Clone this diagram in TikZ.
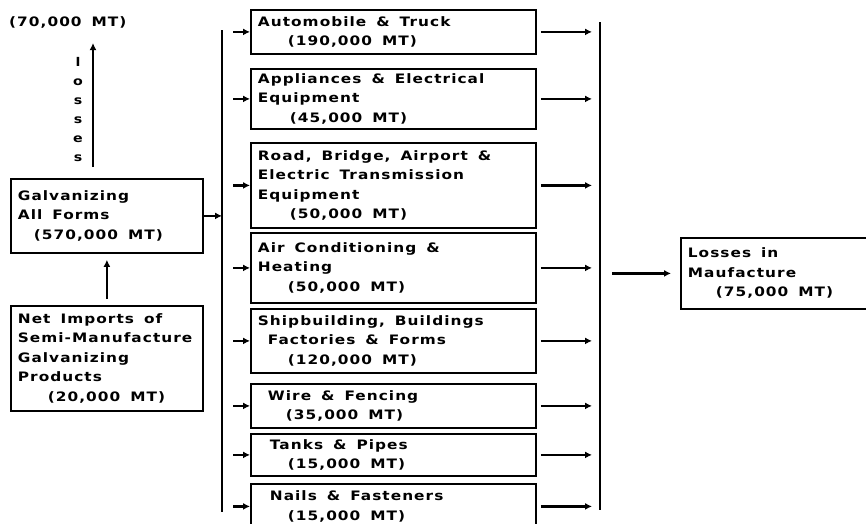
\documentclass[tikz,border=0pt]{standalone}
\usepackage{fontspec}
\usepackage{tikz}
\usetikzlibrary{arrows.meta}
\newfontfamily\diagfont{DejaVu Sans}[FakeStretch=1.18,LetterSpace=8]
\tikzset{
  txt/.style={font=\diagfont\bfseries\fontsize{13}{19.5}\selectfont,inner sep=0pt,
    execute at begin node={\spaceskip=10pt\relax}},
  box/.style={txt,draw=black,line width=1.8pt,anchor=north west,inner xsep=7pt,
    inner ysep=2pt,align=left},
  sector/.style={box,text width=271pt,minimum height=#1},
  flow/.style={draw=black,line width=2.4pt,-{Latex[length=7pt,width=7pt]}},
  bus/.style={draw=black,line width=2.6pt},
}
\begin{document}
\begin{tikzpicture}[x=1pt,y=-1pt]
\useasboundingbox[fill=white] (0,0) rectangle (866,523);
\node[txt,anchor=west] (lossval) at (9,22) {(70,000 MT)};
\node[txt,align=center,font=\diagfont\bfseries\fontsize{12}{19}\selectfont] (lossword) at (78,110) {l\\o\\s\\s\\e\\s};
\coordinate (lossx) at (93,0);
\node[box,text width=178pt,minimum height=74pt] (galv) at (10,178)
  {Galvanizing\\All Forms\\\hspace*{16pt}(570,000 MT)};
\node[box,text width=178pt,minimum height=105pt] (imports) at (10,305)
  {Net Imports of\\Semi-Manufacture\\Galvanizing\\Products\\\hspace*{30pt}(20,000 MT)};
\node[sector=44pt] (auto) at (250,9) {Automobile \& Truck\\\hspace*{30pt}(190,000 MT)};
\node[sector=60pt] (appl) at (250,68) {Appliances \& Electrical\\Equipment\\\hspace*{32pt}(45,000 MT)};
\node[sector=85pt] (road) at (250,142) {Road, Bridge, Airport \&\\Electric Transmission\\Equipment\\\hspace*{32pt}(50,000 MT)};
\node[sector=70pt] (aircon) at (250,232) {Air Conditioning \&\\Heating\\\hspace*{30pt}(50,000 MT)};
\node[sector=64pt] (ship) at (250,308) {Shipbuilding, Buildings\\\hspace*{10pt}Factories \& Forms\\\hspace*{30pt}(120,000 MT)};
\node[sector=44pt] (wire) at (250,383) {\hspace*{10pt}Wire \& Fencing\\\hspace*{28pt}(35,000 MT)};
\node[sector=42pt] (tanks) at (250,433) {\hspace*{12pt}Tanks \& Pipes\\\hspace*{30pt}(15,000 MT)};
\node[sector=45pt] (nails) at (250,483) {\hspace*{12pt}Nails \& Fasteners\\\hspace*{30pt}(15,000 MT)};
\node[box,text width=190pt,minimum height=71pt] (manuf) at (680,237)
  {Losses in\\Maufacture\\\hspace*{28pt}(75,000 MT)};
\coordinate (busLtop) at (222,30);
\coordinate (busLbot) at (222,512);
\coordinate (busRtop) at (600,22);
\coordinate (busRbot) at (600,510);
\draw[bus] (busLtop) -- (busLbot);
\draw[bus] (busRtop) -- (busRbot);
\draw[flow,shorten <=11pt,shorten >=15pt] (galv.north -| lossx) -- (lossval.south -| lossx);
\draw[flow,shorten <=6pt,shorten >=6pt] (imports.north) -- (galv.south);
\draw[flow] (galv.east) -- (galv.east -| busLtop);
\foreach \s in {auto,appl,road,aircon,ship,wire,tanks,nails} {
  \draw[flow,shorten <=11pt] (\s.west -| busLtop) -- (\s.west);
  \draw[flow,shorten <=4pt,shorten >=8pt] (\s.east) -- (\s.east -| busRtop);
}
\draw[flow,shorten <=12pt,shorten >=9pt] (manuf.west -| busRtop) -- (manuf.west);
\end{tikzpicture}
\end{document}
